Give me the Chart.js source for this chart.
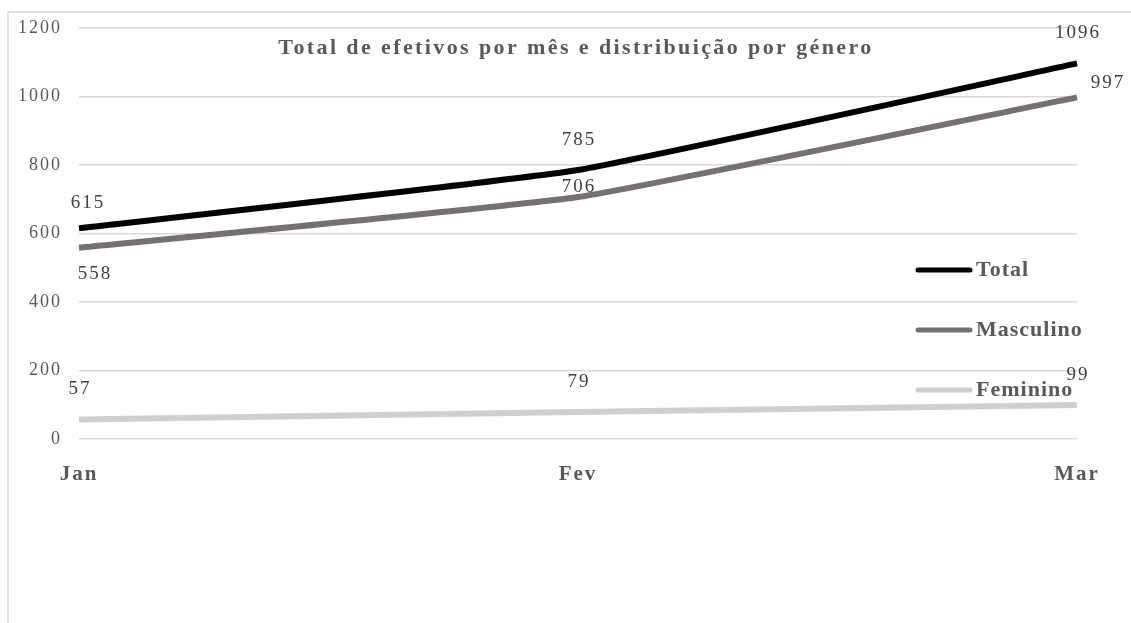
<!DOCTYPE html>
<html>
<head>
<meta charset="utf-8">
<script src="https://cdn.jsdelivr.net/npm/chart.js@4.4.1/dist/chart.umd.min.js"></script>
<style>
  html, body { margin: 0; padding: 0; background: #fff; }
  #wrap { position: relative; width: 1131px; height: 623px; }
</style>
</head>
<body>
<div id="wrap"><canvas id="chart"></canvas></div>
<script>
// Efetivos por mês
var MONTHS = ['Jan', 'Fev', 'Mar'];
var TOTAL = [615, 785, 1096];
var MASCULINO = [558, 706, 997];
var FEMININO = [57, 79, 99];
var Y_TICKS = [0, 200, 400, 600, 800, 1000, 1200];

var TITLE = 'Total de efetivos por mês e distribuição por género';
var FONT = '"Liberation Serif", "DejaVu Serif", serif';

var SERIES = [
  { label: 'Total', data: TOTAL, color: '#000000', labelPos: ['up-right', 'up', 'up'] },
  { label: 'Masculino', data: MASCULINO, color: '#767171', labelPos: ['down-right', 'up-small', 'right'] },
  { label: 'Feminino', data: FEMININO, color: '#d0cece', labelPos: ['up', 'up', 'up'] }
];

// frame around the chart (only left and top edges are visible in the original);
// the original font is a wide Garamond, so axis text gets some letter spacing
var framePlugin = {
  id: 'frame',
  beforeDraw: function (chart) {
    var ctx = chart.ctx;
    ctx.letterSpacing = '2px';
    ctx.save();
    ctx.strokeStyle = '#d9d9d9';
    ctx.lineWidth = 1.5;
    ctx.beginPath();
    ctx.moveTo(8, 623);
    ctx.lineTo(8, 12);
    ctx.lineTo(1131, 12);
    ctx.stroke();
    ctx.restore();
  }
};

// title, value labels and the in-plot legend
var overlayPlugin = {
  id: 'overlay',
  afterDraw: function (chart) {
    var ctx = chart.ctx;
    ctx.save();

    ctx.fillStyle = '#595959';
    ctx.font = 'bold 22px ' + FONT;
    ctx.letterSpacing = '2.4px';
    ctx.textAlign = 'center';
    ctx.textBaseline = 'middle';
    ctx.fillText(TITLE, 576, 48);

    ctx.letterSpacing = '2px';
    ctx.font = '19px ' + FONT;
    ctx.fillStyle = '#404040';
    SERIES.forEach(function (s, di) {
      var meta = chart.getDatasetMeta(di);
      meta.data.forEach(function (pt, i) {
        var x = pt.x + 1, y = pt.y;
        switch (s.labelPos[i]) {
          case 'up': y -= 30; break;
          case 'up-right': x += 8; y -= 25; break;
          case 'down-right': x += 15; y += 26; break;
          case 'up-small': y -= 10; break;
          case 'right': x += 30; y -= 14; break;
        }
        ctx.fillText(String(s.data[i]), x, y);
      });
    });

    var legendY = [270, 330, 390];
    ctx.letterSpacing = '1px';
    SERIES.forEach(function (s, i) {
      ctx.strokeStyle = s.color;
      ctx.lineWidth = 5;
      ctx.lineCap = 'round';
      ctx.beginPath();
      ctx.moveTo(918, legendY[i]);
      ctx.lineTo(970, legendY[i]);
      ctx.stroke();
      ctx.fillStyle = '#595959';
      ctx.font = 'bold 22px ' + FONT;
      ctx.textAlign = 'left';
      ctx.fillText(s.label, 976, legendY[i]);
    });
    ctx.restore();
  }
};

new Chart(document.getElementById('chart'), {
  type: 'line',
  data: {
    labels: MONTHS,
    datasets: SERIES.map(function (s) {
      return {
        label: s.label,
        data: s.data,
        borderColor: s.color,
        backgroundColor: s.color,
        borderWidth: 6,
        borderCapStyle: 'butt',
        tension: 0.12,
        pointRadius: 0,
        fill: false
      };
    })
  },
  options: {
    responsive: true,
    maintainAspectRatio: false,
    animation: false,
    layout: { padding: { top: 25, right: 54, left: 0, bottom: 0 } },
    plugins: { legend: { display: false }, tooltip: { enabled: false } },
    scales: {
      x: {
        offset: false,
        grid: { display: false },
        border: { display: false },
        ticks: {
          color: '#595959',
          font: { family: FONT, size: 21, weight: 'bold' },
          padding: 15,
          maxRotation: 0
        },
        afterFit: function (scale) { scale.height = 184; }
      },
      y: {
        min: 0,
        max: 1200,
        afterBuildTicks: function (scale) {
          scale.ticks = Y_TICKS.map(function (v) { return { value: v }; });
        },
        grid: { color: '#d9d9d9', lineWidth: 1.5, drawTicks: false },
        border: { display: false },
        ticks: {
          color: '#595959',
          font: { family: FONT, size: 18 },
          padding: 17,
          callback: function (v) { return String(v); }
        },
        afterFit: function (scale) { scale.width = 79; }
      }
    }
  },
  plugins: [framePlugin, overlayPlugin]
});
</script>
</body>
</html>
